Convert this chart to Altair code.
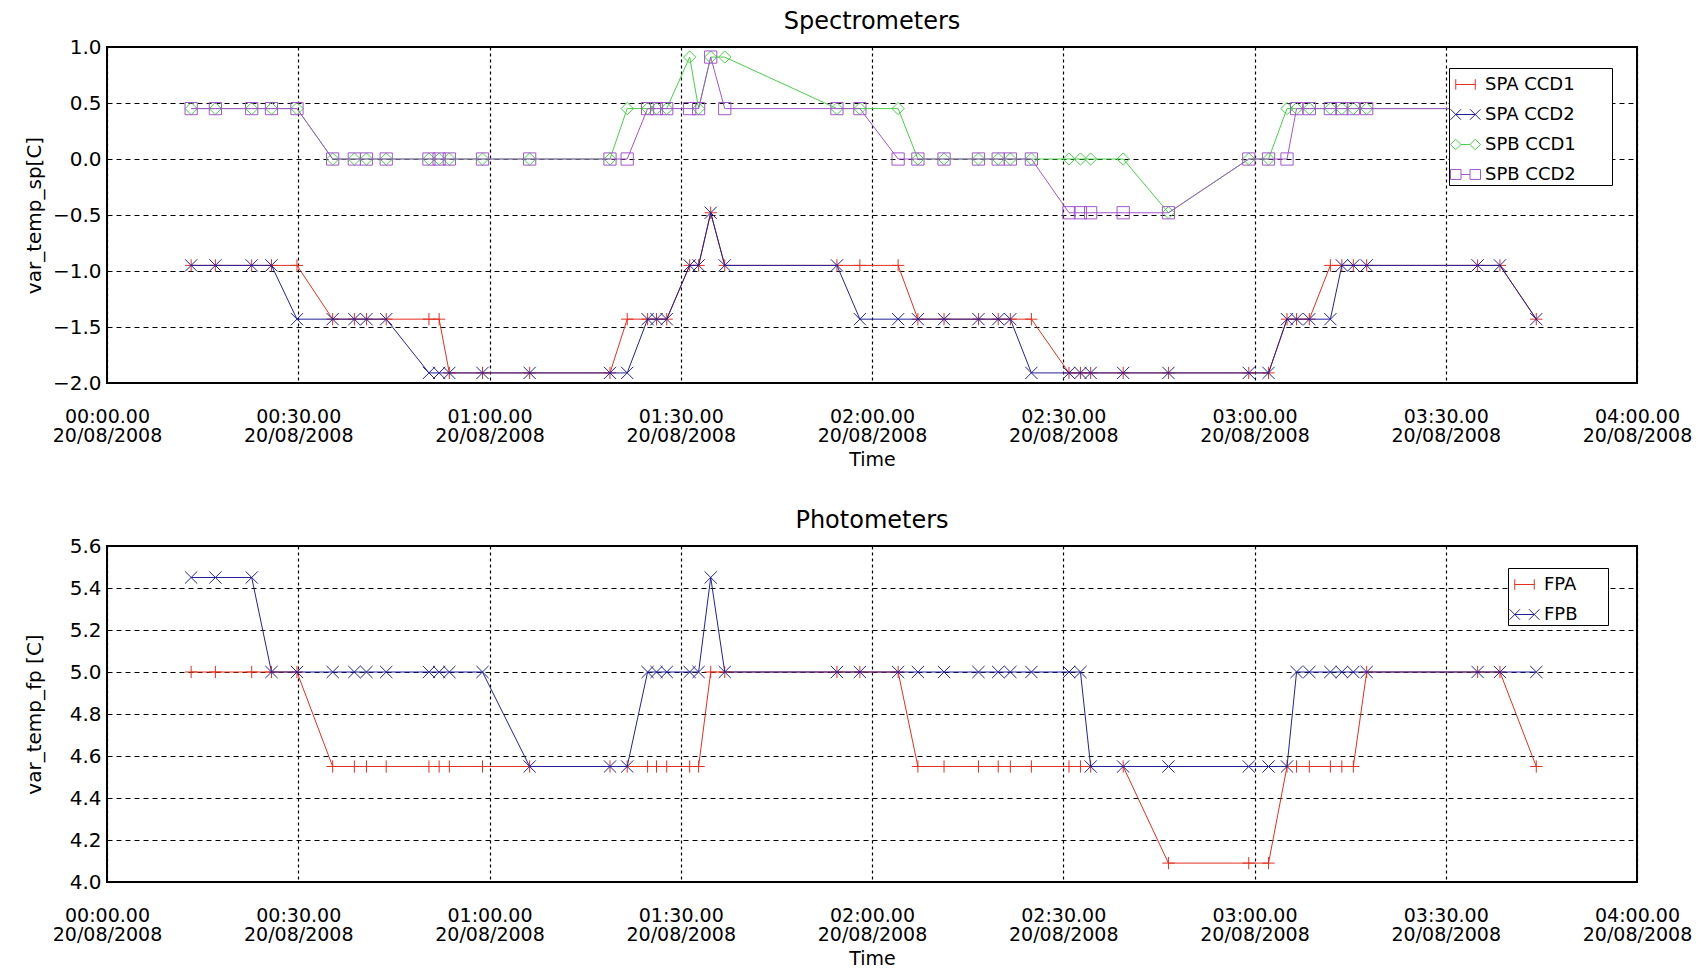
import altair as alt
import pandas as pd

FONT = "DejaVu Sans"

# sample times, minutes after 00:00 on 20/08/2008
times = [13.2, 17.0, 22.7, 25.8, 29.8, 35.4, 38.8, 40.7, 43.8, 50.5, 52.1, 53.7, 58.9, 66.3,
         78.9, 81.6, 84.8, 86.2, 87.8, 91.4, 92.8, 94.7, 96.9, 114.5, 118.1, 124.1,
         127.2, 131.3, 136.7, 139.8, 141.7, 145.0, 150.9, 152.7, 154.3, 159.4, 166.5,
         179.1, 182.2, 185.1, 186.6, 188.6, 191.9, 193.7, 195.5, 197.6, 215.0, 218.5, 224.2]

spa_ccd1 = [-0.95, -0.95, -0.95, -0.95, -0.95,
            -1.43, -1.43, -1.43, -1.43, -1.43, -1.43,
            -1.91, -1.91, -1.91, -1.91,
            -1.43, -1.43, -1.43, -1.43,
            -0.95, -0.95,
            -0.48,
            -0.95, -0.95, -0.95, -0.95,
            -1.43, -1.43, -1.43, -1.43, -1.43, -1.43,
            -1.91, -1.91, -1.91, -1.91, -1.91, -1.91, -1.91,
            -1.43, -1.43, -1.43,
            -0.95, -0.95, -0.95, -0.95, -0.95, -0.95,
            -1.43]
spa_ccd2 = [-0.95, -0.95, -0.95, -0.95,
            -1.43, -1.43, -1.43, -1.43, -1.43,
            -1.91, -1.91, -1.91, -1.91, -1.91, -1.91, -1.91,
            -1.43, -1.43, -1.43,
            -0.95, -0.95,
            -0.48,
            -0.95, -0.95,
            -1.43, -1.43, -1.43, -1.43, -1.43, -1.43, -1.43,
            -1.91, -1.91, -1.91, -1.91, -1.91, -1.91, -1.91, -1.91,
            -1.43, -1.43, -1.43, -1.43,
            -0.95, -0.95, -0.95, -0.95, -0.95,
            -1.43]
spb_ccd1 = [0.45, 0.45, 0.45, 0.45, 0.45,
            0.0, 0.0, 0.0, 0.0, 0.0, 0.0, 0.0, 0.0, 0.0, 0.0,
            0.45, 0.45, 0.45, 0.45,
            0.91, 0.45, 0.91, 0.91,
            0.45, 0.45, 0.45,
            0.0, 0.0, 0.0, 0.0, 0.0, 0.0, 0.0, 0.0, 0.0, 0.0,
            -0.48,
            0.0, 0.0,
            0.45, 0.45, 0.45, 0.45, 0.45, 0.45, 0.45, 0.45, 0.45, 0.45]
spb_ccd2 = [0.45, 0.45, 0.45, 0.45, 0.45,
            0.0, 0.0, 0.0, 0.0, 0.0, 0.0, 0.0, 0.0, 0.0, 0.0, 0.0,
            0.45, 0.45, 0.45, 0.45, 0.45,
            0.91,
            0.45, 0.45, 0.45,
            0.0, 0.0, 0.0, 0.0, 0.0, 0.0, 0.0,
            -0.48, -0.48, -0.48, -0.48, -0.48,
            0.0, 0.0, 0.0,
            0.45, 0.45, 0.45, 0.45, 0.45, 0.45, 0.45, 0.45, 0.45]

fpa = [5.0, 5.0, 5.0, 5.0, 5.0,
       4.55, 4.55, 4.55, 4.55, 4.55, 4.55, 4.55, 4.55, 4.55, 4.55, 4.55, 4.55, 4.55, 4.55, 4.55, 4.55,
       5.0, 5.0, 5.0, 5.0, 5.0,
       4.55, 4.55, 4.55, 4.55, 4.55, 4.55, 4.55, 4.55, 4.55, 4.55,
       4.09, 4.09, 4.09,
       4.55, 4.55, 4.55, 4.55, 4.55, 4.55,
       5.0, 5.0, 5.0,
       4.55]
fpb = [5.45, 5.45, 5.45,
       5.0, 5.0, 5.0, 5.0, 5.0, 5.0, 5.0, 5.0, 5.0, 5.0,
       4.55, 4.55, 4.55,
       5.0, 5.0, 5.0, 5.0, 5.0,
       5.45,
       5.0, 5.0, 5.0, 5.0, 5.0, 5.0, 5.0, 5.0, 5.0, 5.0, 5.0, 5.0,
       4.55, 4.55, 4.55, 4.55, 4.55, 4.55,
       5.0, 5.0, 5.0, 5.0, 5.0, 5.0, 5.0, 5.0, 5.0]

sp_names = ["SPA CCD1", "SPA CCD2", "SPB CCD1", "SPB CCD2"]
fp_names = ["FPA", "FPB"]

tick_times = [0, 30, 60, 90, 120, 150, 180, 210, 240]
tick_clock = ["00:00.00", "00:30.00", "01:00.00", "01:30.00", "02:00.00",
              "02:30.00", "03:00.00", "03:30.00", "04:00.00"]
tick_date = "20/08/2008"
sp_ticks = [-2.0, -1.5, -1.0, -0.5, 0.0, 0.5, 1.0]
fp_ticks = [4.0, 4.2, 4.4, 4.6, 4.8, 5.0, 5.2, 5.4, 5.6]

RED = "#e3301f"
BLUE = "#22229c"
GREEN = "#46d246"
PURPLE = "#a456cc"

MARK = {
    "plus": "M-1,0H1M0,-1V1",
    "cross": "M-1,-1L1,1M-1,1L1,-1",
    "diamond": "diamond",
    "square": "square",
}
LEG = {
    "plus": "M-0.65,0H0.65M-0.65,-0.35V0.35M0.65,-0.35V0.35",
    "cross": "M-0.65,0H0.65M-1,-0.35L-0.3,0.35M-1,0.35L-0.3,-0.35M0.3,-0.35L1,0.35M0.3,0.35L1,-0.35",
    "diamond": "M-0.3,0H0.3M-0.65,-0.35L-0.3,0L-0.65,0.35L-1,0ZM0.65,-0.35L1,0L0.65,0.35L0.3,0Z",
    "square": "M-0.3,0H0.3M-1,-0.33H-0.3V0.33H-1ZM0.3,-0.33H1V0.33H0.3Z",
}


def long_df(names, series):
    rows = []
    for name, vals in zip(names, series):
        for t, v in zip(times, vals):
            rows.append({"series": name, "t": t, "v": v})
    return pd.DataFrame(rows)


clock_arr = "[" + ",".join("'%s'" % s for s in tick_clock) + "]"
times_arr = "[" + ",".join(str(t) for t in tick_times) + "]"
label_expr = "[%s[indexof(%s, datum.value)], '%s']" % (clock_arr, times_arr, tick_date)

PLOT_W = 1530
PLOT_H = 336
ZWSP = "\u200b"


def panel(df, names, colors, kinds, title, ytitle, ydomain, yticks, lx, ly, pad_spaces):
    x = alt.X("t:Q",
              scale=alt.Scale(domain=[0, 240], nice=False, zero=False),
              axis=alt.Axis(values=tick_times, labelExpr=label_expr, title="Time",
                            grid=True, gridDash=[3, 3], gridColor="black", gridOpacity=1,
                            gridWidth=1.2, ticks=False, domain=False,
                            labelFont=FONT, labelFontSize=19, labelColor="black",
                            labelPadding=24, labelLineHeight=19.5, labelOverlap=False,
                            labelFlush=False, labelBound=False,
                            titleFont=FONT, titleFontSize=19, titleColor="black",
                            titleFontWeight="normal", titleY=67, titleBaseline="top"))
    y = alt.Y("v:Q",
              scale=alt.Scale(domain=ydomain, nice=False, zero=False),
              axis=alt.Axis(values=yticks, format=".1f", title=ytitle,
                            grid=True, gridDash=[5, 4], gridColor="black", gridOpacity=1,
                            gridWidth=1.2, ticks=False, domain=False,
                            labelFont=FONT, labelFontSize=20, labelColor="black",
                            labelPadding=6, labelOverlap=False, labelFlush=False,
                            titleFont=FONT, titleFontSize=20, titleColor="black",
                            titleFontWeight="normal", titleX=-67, titleY=PLOT_H / 2,
                            titleAngle=270, titleAlign="center", titleBaseline="alphabetic"))
    base = alt.Chart(df)
    layers = []
    for name, kind, col in zip(names, kinds, colors):
        sub = base.transform_filter(alt.datum.series == name)
        layers.append(sub.mark_line(strokeWidth=1, color=col).encode(x=x, y=y, order="t:Q"))
        layers.append(
            sub.mark_point(filled=False, size=150, strokeWidth=1, opacity=1,
                           shape=MARK[kind], color=col).encode(x=x, y=y)
        )
    legend = alt.Legend(title=None, orient="none", legendX=lx, legendY=ly,
                        strokeColor="black", fillColor="white", padding=1,
                        labelFont=FONT, labelFontSize=18, labelColor="black",
                        symbolSize=900, symbolStrokeWidth=1, symbolOpacity=1,
                        symbolFillColor="transparent",
                        rowPadding=5, labelOffset=4,
                        labelExpr="datum.label + '%s%s'" % (" " * pad_spaces, ZWSP))
    layers.append(
        base.mark_point(filled=False, size=0, strokeWidth=1).encode(
            x=x, y=y,
            color=alt.Color("series:N", scale=alt.Scale(domain=names, range=colors),
                            legend=legend),
            shape=alt.Shape("series:N",
                            scale=alt.Scale(domain=names, range=[LEG[k] for k in kinds]),
                            legend=legend),
        )
    )
    return alt.layer(*layers).properties(
        width=PLOT_W, height=PLOT_H,
        title=alt.Title(title, font=FONT, fontSize=24, fontWeight="normal",
                        color="black", offset=3),
    )


sp_df = long_df(sp_names, [spa_ccd1, spa_ccd2, spb_ccd1, spb_ccd2])
fp_df = long_df(fp_names, [fpa, fpb])

top = panel(sp_df, sp_names, [RED, BLUE, GREEN, PURPLE],
            ["plus", "cross", "diamond", "square"],
            "Spectrometers", "var_temp_sp[C]", [-2.0, 1.0], sp_ticks, 1342, 21, 6)
bottom = panel(fp_df, fp_names, [RED, BLUE], ["plus", "cross"],
               "Photometers", "var_temp_fp [C]", [4.0, 5.6], fp_ticks, 1401, 22, 5)

chart = alt.vconcat(top, bottom, spacing=38).resolve_scale(
    color="independent", shape="independent"
).resolve_legend(color="independent", shape="independent").configure_view(
    stroke="black", strokeWidth=2
).properties(
    padding={"left": 15, "top": 1, "right": 0, "bottom": 0},
    background="white",
)

chart.save("out.html", embed_options={"renderer": "svg", "actions": False})
